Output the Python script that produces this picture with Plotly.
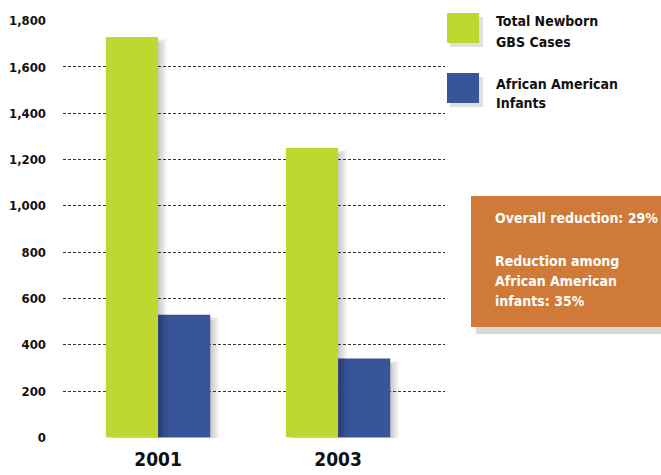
import plotly.graph_objects as go

years = ["2001", "2003"]
total_cases = [1730, 1250]
african_american = [530, 340]
series_names = [["Total Newborn", "GBS Cases"], ["African American", "Infants"]]
y_ticks = [0, 200, 400, 600, 800, 1000, 1200, 1400, 1600, 1800]
y_tick_text = ["0", "200", "400", "600", "800", "1,000", "1,200", "1,400", "1,600", "1,800"]
box_lines = ["Overall reduction: 29%", "Reduction among", "African American", "infants: 35%"]

GREEN = "#BFD831"
BLUE = "#375598"
ORANGE = "#D07A3A"
FONT = "Liberation Sans Narrow, DejaVu Sans Condensed, Roboto Condensed, sans-serif"

W, H = 661, 475
PL, PR, PT, PB = 63, 445, 20, 438  # plot area in window pixels
L, T = PL, PT
R, B = W - PR, H - PB
PW, PH = W - L - R, H - T - B

def px(x):
    return (x - L) / PW

def py(y):
    return (H - B - y) / PH

fig = go.Figure()
fig.add_trace(go.Bar(x=years, y=total_cases, name="Total", marker=dict(color=GREEN, line=dict(width=0))))
fig.add_trace(go.Bar(x=years, y=african_american, name="AA", marker=dict(color=BLUE, line=dict(width=0))))

# soft drop shadows behind bars (derived from the data)
bar_w = 0.29
unit_px = bar_w / 52.0
for i in range(len(years)):
    for j, vals in enumerate([total_cases, african_american]):
        x0 = i - bar_w + j * bar_w
        x1 = x0 + bar_w
        for k in range(4):
            off = 0.012 + k * 0.012
            fig.add_shape(type="rect", xref="x", yref="y",
                          x0=x0 + off, x1=x1 + off, y0=-12 - k * 8, y1=vals[i] - 25 + k * 5,
                          line=dict(width=0), fillcolor="rgba(0,0,0,0.05)", layer="below")
    # shading on the left edge of the blue bar (cast by the green bar)
    bx0 = i
    for wpx, a in [(3, 0.10), (6, 0.08), (10, 0.06)]:
        fig.add_shape(type="rect", xref="x", yref="y",
                      x0=bx0, x1=bx0 + wpx * unit_px, y0=0, y1=african_american[i],
                      line=dict(width=0), fillcolor=f"rgba(0,0,0,{a})", layer="above")

fig.update_layout(
    width=W, height=H,
    margin=dict(l=L, r=R, t=T, b=B, autoexpand=False),
    paper_bgcolor="white", plot_bgcolor="rgba(0,0,0,0)",
    barmode="group", bargap=0.42, bargroupgap=0,
    showlegend=False,
    font=dict(family=FONT, color="#111111"),
)
fig.update_yaxes(
    range=[-3, 1803], tickvals=y_ticks, ticktext=y_tick_text, automargin=False,
    showgrid=True, gridcolor="#333333", gridwidth=1, griddash="3px,2px",
    zeroline=False, showline=False, layer="below traces",
    tickfont=dict(family=FONT, size=13, color="#111111", weight="bold"),
    ticklabelstandoff=16,
)
fig.update_xaxes(
    type="category", range=[-0.528, 1.594], automargin=False,
    showgrid=False, showline=False, zeroline=False,
    tickfont=dict(family=FONT, size=19, color="#111111", weight="bold"),
    ticklabelstandoff=8,
)

# legend drawn manually
leg_colors = [GREEN, BLUE]
leg_y = [28, 88]
leg_text_y = [[21.5, 42], [84, 103]]
for c, yc, names, tys in zip(leg_colors, leg_y, series_names, leg_text_y):
    fig.add_shape(type="rect", xref="paper", yref="paper",
                  x0=px(450), x1=px(483), y0=py(yc + 19), y1=py(yc - 11),
                  line=dict(width=0), fillcolor="rgba(0,0,0,0.12)", layer="above")
    fig.add_shape(type="rect", xref="paper", yref="paper",
                  x0=px(447), x1=px(479), y0=py(yc + 15), y1=py(yc - 15),
                  line=dict(width=0), fillcolor=c, layer="above")
    for name, ty in zip(names, tys):
        fig.add_annotation(xref="paper", yref="paper", x=px(494), y=py(ty),
                           text=name, showarrow=False, xanchor="left", yanchor="middle", align="left",
                           font=dict(family=FONT, size=14, color="#111111", weight="bold"))

# orange box
fig.add_shape(type="rect", xref="paper", yref="paper",
              x0=px(476), x1=px(668), y0=py(334), y1=py(202),
              line=dict(width=0), fillcolor="rgba(0,0,0,0.15)", layer="above")
fig.add_shape(type="rect", xref="paper", yref="paper",
              x0=px(471), x1=px(670), y0=py(327), y1=py(196),
              line=dict(width=0), fillcolor=ORANGE, layer="above")
for txt, ty in zip(box_lines, [218, 261, 281, 301]):
    fig.add_annotation(xref="paper", yref="paper", x=px(493), y=py(ty),
                       text=txt, showarrow=False, xanchor="left", yanchor="middle", align="left",
                       font=dict(family=FONT, size=14, color="white", weight="bold"))

fig.write_html(
    "out.html",
    config={"displayModeBar": False},
    post_script="document.documentElement.style.overflow='hidden';"
                "document.body.style.margin='0';document.body.style.overflow='hidden';",
)
